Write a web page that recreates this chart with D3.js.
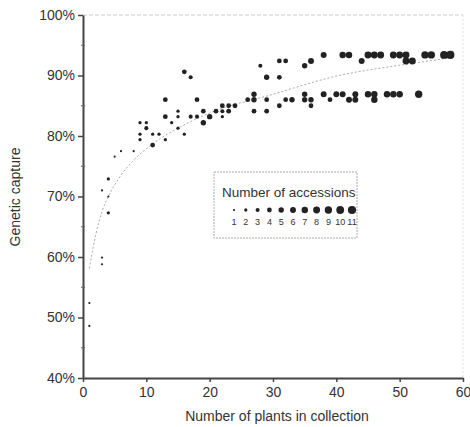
<!DOCTYPE html>
<html>
<head>
<meta charset="utf-8">
<script src="https://cdn.jsdelivr.net/npm/d3@7"></script>
<style>
  body { margin: 0; background: #fff; }
  text { font-family: Arial, "Liberation Sans", sans-serif; fill: #333; }
</style>
</head>
<body>
<div id="chart"></div>
<script>
// number of plants in collection, genetic capture (%), number of accessions
const plants = [1, 1, 3, 3, 3, 4, 4, 4, 5, 6, 8, 9, 9, 9, 10, 10, 11, 11, 12, 13,
  13, 13, 14, 15, 15, 15, 16, 16, 17, 17, 18, 18, 19, 19, 20, 21, 22, 22, 22, 23,
  23, 24, 26, 27, 27, 27, 28, 29, 29, 29, 31, 31, 31, 32, 32, 33, 35, 35, 35, 36,
  36, 36, 38, 38, 39, 40, 41, 41, 42, 42, 43, 43, 44, 45, 45, 46, 46, 46, 47, 48,
  49, 49, 50, 50, 51, 51, 52, 53, 54, 55, 57, 58];
const capture = [48.6, 52.4, 58.8, 59.9, 71.0, 67.3, 70.0, 72.9, 76.6, 77.5, 77.5, 79.4, 80.3, 82.2, 82.2, 81.3, 80.3, 78.5, 80.3, 79.4,
  83.2, 86.0, 82.2, 81.3, 83.2, 84.1, 80.3, 90.6, 89.7, 83.2, 83.2, 86.0, 84.1, 82.2, 83.2, 84.1, 85.0, 84.1, 83.2, 85.0,
  84.1, 85.0, 86.0, 86.9, 86.0, 84.1, 91.6, 89.7, 86.0, 84.1, 92.4, 89.7, 85.0, 92.4, 86.0, 86.0, 91.6, 86.9, 86.0, 92.4,
  86.0, 85.0, 93.4, 86.9, 86.0, 86.9, 93.4, 86.9, 93.4, 86.0, 86.9, 86.0, 92.4, 93.4, 86.9, 93.4, 86.9, 86.0, 93.4, 86.9,
  93.4, 86.9, 93.4, 86.9, 93.4, 92.4, 92.4, 86.9, 93.4, 93.4, 93.4, 93.4];
const accessions = [1, 1, 1, 1, 1, 2, 1, 2, 1, 1, 1, 2, 2, 2, 2, 3, 2, 4, 2, 2,
  4, 4, 2, 2, 2, 2, 2, 4, 3, 3, 3, 4, 4, 5, 5, 4, 4, 3, 2, 4,
  4, 4, 4, 5, 5, 4, 3, 5, 4, 4, 4, 4, 4, 4, 4, 5, 5, 5, 5, 6,
  5, 4, 6, 6, 4, 6, 7, 6, 7, 6, 6, 6, 6, 8, 7, 8, 7, 7, 8, 7,
  8, 7, 8, 7, 8, 8, 8, 9, 9, 9, 10, 11];

// fitted trend line
const trendX = [1, 2, 3, 4, 6, 8, 10, 15, 20, 30, 40, 50, 58];
const trendY = [58.1, 63.6, 67.5, 70.0, 73.5, 76.0, 77.9, 81.3, 83.8, 86.9, 89.9, 91.7, 92.9];

const xTicks = [0, 10, 20, 30, 40, 50, 60];
const yTicks = [40, 50, 60, 70, 80, 90, 100];
const legendSizes = [1, 2, 3, 4, 5, 6, 7, 8, 9, 10, 11];

const width = 470, height = 427;
const svg = d3.select("#chart").append("svg")
  .attr("width", width).attr("height", height);

const x = d3.scaleLinear().domain([0, 60]).range([83, 463]);
const y = d3.scaleLinear().domain([40, 100]).range([378, 15]);
const r = d3.scaleSqrt().domain([1, 11]).range([1.1, 4.1]);

// faint frame top and right
svg.append("line")
  .attr("x1", x(0)).attr("x2", x(60)).attr("y1", y(100)).attr("y2", y(100))
  .attr("stroke", "#ccc").attr("stroke-dasharray", "4,2");
svg.append("line")
  .attr("x1", x(60)).attr("x2", x(60)).attr("y1", y(100)).attr("y2", y(40))
  .attr("stroke", "#ddd").attr("stroke-dasharray", "2,2");

// axes
const yAxis = svg.append("g")
  .attr("transform", "translate(" + x(0) + ",0)")
  .call(d3.axisLeft(y).tickValues(yTicks).tickFormat(d => d + "%").tickSize(5).tickSizeOuter(0));
const xAxis = svg.append("g")
  .attr("transform", "translate(0," + y(40) + ")")
  .call(d3.axisBottom(x).tickValues(xTicks).tickSize(4).tickSizeOuter(0));

[xAxis, yAxis].forEach(function (g) {
  g.select(".domain").attr("stroke", "#444").attr("stroke-width", 2);
  g.selectAll(".tick line").attr("stroke", "#444").attr("stroke-width", 1.5);
  g.selectAll(".tick text")
    .attr("font-size", 14).attr("font-family", "Arial, 'Liberation Sans', sans-serif")
    .attr("fill", "#333");
});
yAxis.selectAll(".tick text").attr("x", -8);
xAxis.selectAll(".tick text").attr("y", 9);

// minor ticks on y
svg.selectAll(".minor").data(d3.range(45, 100, 10))
  .enter().append("line")
  .attr("x1", x(0) - 2).attr("x2", x(0) + 2)
  .attr("y1", d => y(d)).attr("y2", d => y(d))
  .attr("stroke", "#666");

svg.append("text")
  .attr("x", 277).attr("y", 421)
  .attr("text-anchor", "middle").attr("font-size", 14)
  .text("Number of plants in collection");

svg.append("text")
  .attr("transform", "translate(20,197) rotate(-90)")
  .attr("text-anchor", "middle").attr("font-size", 14)
  .text("Genetic capture");

// trend line
const line = d3.line()
  .x(d => x(d[0])).y(d => y(d[1]))
  .curve(d3.curveMonotoneX);
svg.append("path")
  .datum(trendX.map((v, i) => [v, trendY[i]]))
  .attr("d", line)
  .attr("fill", "none").attr("stroke", "#aaa")
  .attr("stroke-width", 1).attr("stroke-dasharray", "2,2");

// points
svg.selectAll(".pt")
  .data(plants.map((p, i) => ({ p: p, c: capture[i], a: accessions[i] })))
  .enter().append("circle")
  .attr("class", "pt")
  .attr("cx", d => x(d.p)).attr("cy", d => y(d.c))
  .attr("r", d => r(d.a))
  .attr("fill", "#222");

// legend
const lg = svg.append("g").attr("transform", "translate(214,172)");
lg.append("rect")
  .attr("width", 143).attr("height", 66)
  .attr("fill", "#fff").attr("stroke", "#aaa")
  .attr("stroke-dasharray", "2,1");
lg.append("text")
  .attr("x", 8).attr("y", 25).attr("font-size", 13.5).attr("fill", "#222")
  .text("Number of accessions");
const lx = d3.scalePoint().domain(legendSizes).range([20, 138]);
lg.selectAll(".ld").data(legendSizes).enter().append("circle")
  .attr("cx", d => lx(d)).attr("cy", 38)
  .attr("r", d => r(d)).attr("fill", "#222");
lg.selectAll(".ll").data(legendSizes).enter().append("text")
  .attr("x", d => lx(d)).attr("y", 53)
  .attr("text-anchor", "middle").attr("font-size", 9).attr("fill", "#444")
  .text(d => d);
</script>
</body>
</html>
